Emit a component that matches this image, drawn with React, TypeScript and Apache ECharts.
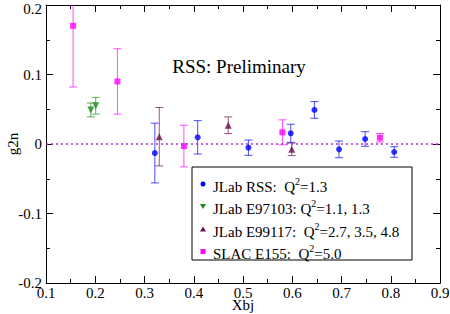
import React, { useEffect, useRef } from "react";
import * as echarts from "echarts";

const rssX = [0.321, 0.408, 0.511, 0.597, 0.645, 0.695, 0.748, 0.807];
const rssY = [-0.013, 0.0096, -0.0053, 0.0154, 0.049, -0.0077, 0.0072, -0.0115];
const rssErr = [0.043, 0.024, 0.011, 0.013, 0.012, 0.012, 0.0105, 0.0076];

const e97X = [0.191, 0.201];
const e97Y = [0.049, 0.055];
const e97Err = [0.01, 0.012];

const e99X = [0.33, 0.47, 0.599];
const e99Y = [0.0105, 0.027, -0.0077];
const e99Err = [0.042, 0.012, 0.009];

const slacX = [0.155, 0.245, 0.38, 0.58, 0.778];
const slacY = [0.17, 0.09, -0.003, 0.0168, 0.009];
const slacErr = [0.088, 0.047, 0.03, 0.018, 0.006];

const xTicks = [0.1, 0.2, 0.3, 0.4, 0.5, 0.6, 0.7, 0.8, 0.9];
const yTicks = [-0.2, -0.1, 0, 0.1, 0.2];

const legendLabels = [
  { name: "JLab RSS:  ", q: "=1.3" },
  { name: "JLab E97103: ", q: "=1.1, 1.3" },
  { name: "JLab E99117:  ", q: "=2.7, 3.5, 4.8" },
  { name: "SLAC E155:  ", q: "=5.0" },
];

const BLUE = "#0000ff";
const GREEN = "#1a8a1a";
const MAROON = "#6b0f4f";
const MAGENTA = "#ff00ff";
const FONT = "Liberation Serif";

function zip(xs: number[], ys: number[], es?: number[]) {
  return xs.map((x, i) => (es ? [x, ys[i], es[i]] : [x, ys[i]]));
}

function errSeries(xs: number[], ys: number[], es: number[], color: string) {
  return {
    type: "custom",
    clip: true,
    data: zip(xs, ys, es),
    encode: { x: 0, y: 1 },
    z: 2,
    renderItem: (params: any, api: any) => {
      const x = api.value(0);
      const y = api.value(1);
      const e = api.value(2);
      const top = api.coord([x, y + e]);
      const bot = api.coord([x, y - e]);
      const hw = 4;
      const st = { stroke: color, lineWidth: 1, opacity: 0.7 };
      return {
        type: "group",
        children: [
          { type: "line", shape: { x1: top[0], y1: top[1], x2: bot[0], y2: bot[1] }, style: st },
          { type: "line", shape: { x1: top[0] - hw, y1: top[1], x2: top[0] + hw, y2: top[1] }, style: st },
          { type: "line", shape: { x1: bot[0] - hw, y1: bot[1], x2: bot[0] + hw, y2: bot[1] }, style: st },
        ],
      };
    },
  };
}

function ptSeries(xs: number[], ys: number[], color: string, symbol: string, size: number, rotate = 0) {
  return {
    type: "scatter",
    data: zip(xs, ys),
    symbol,
    symbolSize: size,
    symbolRotate: rotate,
    itemStyle: { color },
    z: 3,
  };
}

export default function App() {
  const ref = useRef<HTMLDivElement>(null);
  useEffect(() => {
    if (!ref.current) return;
    document.body.style.margin = "0";
    const chart = echarts.init(ref.current, null, { renderer: "svg" });
    const axisLine = { show: true, onZero: false, lineStyle: { color: "#000", width: 1 } };
    const tickStyle = { color: "#000", width: 1 };
    const xBase = {
      type: "value",
      min: 0.1,
      max: 0.9,
      interval: 0.1,
      axisLine,
      axisTick: { show: true, inside: true, length: 7, lineStyle: tickStyle },
      minorTick: { show: true, splitNumber: 2, length: 4, lineStyle: tickStyle },
      splitLine: { show: false },
    };
    const yBase = {
      type: "value",
      min: -0.2,
      max: 0.2,
      interval: 0.1,
      axisLine,
      axisTick: { show: true, inside: true, length: 7, lineStyle: tickStyle },
      minorTick: { show: true, splitNumber: 2, length: 4, lineStyle: tickStyle },
      splitLine: { show: false },
    };
    const fmt = (v: number) => {
      const r = Math.round(v * 10) / 10;
      return r === 0 ? "0" : String(r);
    };
    const yFmt = (v: number) => {
      const s = fmt(v);
      return Math.abs(v - 0.2) < 1e-9 ? `{t|${s}}` : s;
    };
    const legendY0 = 184;
    const legendDy = 22.5;
    const legendColors = [BLUE, GREEN, MAROON, MAGENTA];
    const graphics: any[] = [
      {
        type: "rect",
        shape: { x: 192, y: 167, width: 220, height: 93 },
        style: { fill: "#fff", stroke: "#000", lineWidth: 1 },
        z: 10,
      },
      {
        type: "text",
        x: 239,
        y: 66,
        style: {
          text: "RSS: Preliminary",
          fontFamily: FONT,
          fontSize: 19,
          fill: "#000",
          align: "center",
          verticalAlign: "middle",
        },
        z: 10,
      },
    ];
    legendLabels.forEach((l, i) => {
      const cy = legendY0 + i * legendDy;
      const c = legendColors[i];
      if (i === 0) graphics.push({ type: "circle", shape: { cx: 203, cy, r: 2.5 }, style: { fill: c }, z: 11 });
      if (i === 1)
        graphics.push({ type: "polygon", shape: { points: [[200, cy - 2.5], [206, cy - 2.5], [203, cy + 2.5]] }, style: { fill: c }, z: 11 });
      if (i === 2)
        graphics.push({ type: "polygon", shape: { points: [[200, cy + 2.5], [206, cy + 2.5], [203, cy - 2.5]] }, style: { fill: c }, z: 11 });
      if (i === 3) graphics.push({ type: "rect", shape: { x: 200.5, y: cy - 2.5, width: 5, height: 5 }, style: { fill: c }, z: 11 });
      graphics.push({
        type: "text",
        x: 213,
        y: cy + 1,
        style: {
          text: `{n|${l.name}Q}{s|2}{n|${l.q}}`,
          verticalAlign: "middle",
          rich: {
            n: { fontFamily: FONT, fontSize: 15, fill: "#000", verticalAlign: "bottom" },
            s: { fontFamily: FONT, fontSize: 10, fill: "#000", verticalAlign: "bottom", padding: [0, 0, 8, 0] },
          },
        },
        z: 11,
      });
    });

    chart.setOption({
      animation: false,
      grid: { left: 46, right: 10, top: 5, bottom: 31, containLabel: false, outerBoundsMode: "none" },
      xAxis: [
        {
          ...xBase,
          position: "bottom",
          name: "Xbj",
          nameLocation: "middle",
          nameGap: 14,
          nameMoveOverlap: false,
          nameTextStyle: { fontFamily: FONT, fontSize: 15, color: "#000" },
          axisLabel: { fontFamily: FONT, fontSize: 15, color: "#000", margin: 2, formatter: fmt, customValues: xTicks },
        },
        { ...xBase, position: "top", axisLabel: { show: false } },
      ],
      yAxis: [
        {
          ...yBase,
          position: "left",
          name: "g2n",
          nameLocation: "middle",
          nameGap: 26,
          nameMoveOverlap: false,
          nameRotate: 90,
          nameTextStyle: { fontFamily: FONT, fontSize: 15, color: "#000" },
          axisLabel: {
            fontFamily: FONT,
            fontSize: 15,
            color: "#000",
            margin: 4,
            formatter: yFmt,
            customValues: yTicks,
            rich: { t: { fontFamily: FONT, fontSize: 15, color: "#000", padding: [7, 0, 0, 0] } },
          },
        },
        { ...yBase, position: "right", axisLabel: { show: false } },
      ],
      series: [
        {
          type: "line",
          data: [],
          markLine: {
            silent: true,
            symbol: "none",
            label: { show: false },
            lineStyle: { color: "#b030d0", type: [2, 3], width: 1.5 },
            data: [{ yAxis: 0 }],
          },
        },
        errSeries(rssX, rssY, rssErr, BLUE),
        errSeries(e97X, e97Y, e97Err, GREEN),
        errSeries(e99X, e99Y, e99Err, MAROON),
        errSeries(slacX, slacY, slacErr, MAGENTA),
        ptSeries(rssX, rssY, BLUE, "circle", 6),
        ptSeries(e97X, e97Y, GREEN, "triangle", 7, 180),
        ptSeries(e99X, e99Y, MAROON, "triangle", 7),
        ptSeries(slacX, slacY, MAGENTA, "rect", 6),
      ],
      graphic: graphics,
    });
    return () => chart.dispose();
  }, []);
  return <div ref={ref} style={{ width: 450, height: 314 }} />;
}
